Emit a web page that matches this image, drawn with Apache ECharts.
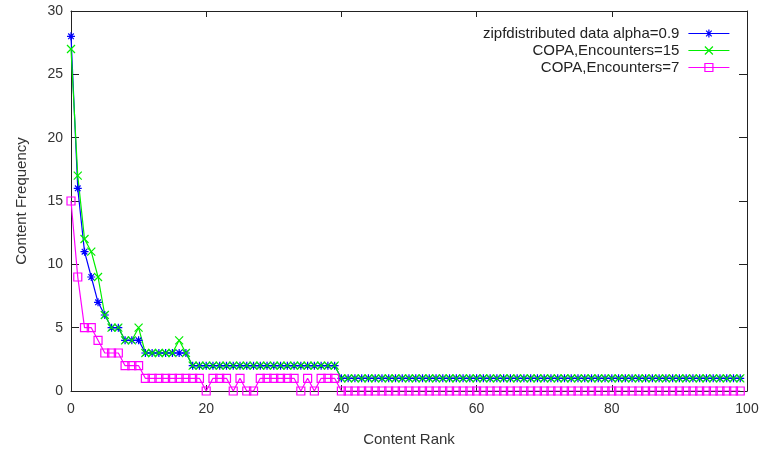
<!DOCTYPE html>
<html>
<head>
<meta charset="utf-8">
<script src="https://cdn.jsdelivr.net/npm/echarts@6/dist/echarts.min.js"></script>
<style>
html,body{margin:0;padding:0;background:#fff;}
#chart{width:763px;height:452px;}
</style>
</head>
<body>
<div id="chart"></div>
<script>
// Content rank 0..99
var ranks = [];
for (var r = 0; r < 100; r++) ranks.push(r);

function rep(v, n) { var a = []; for (var k = 0; k < n; k++) a.push(v); return a; }

var seriesNames = ['zipfdistributed data alpha=0.9', 'COPA,Encounters=15', 'COPA,Encounters=7'];

var zipfValues = [28, 16, 11, 9, 7, 6, 5, 5, 4, 4, 4]
  .concat(rep(3, 7))
  .concat(rep(2, 22))
  .concat(rep(1, 60));

var copa15Values = [27, 17, 12, 11, 9, 6, 5, 5, 4, 4, 5, 3, 3, 3, 3, 3, 4, 3]
  .concat(rep(2, 22))
  .concat(rep(1, 60));

var copa7Values = [15, 9, 5, 5, 4, 3, 3, 3, 2, 2, 2]
  .concat(rep(1, 9))
  .concat([0, 1, 1, 1, 0, 1, 0, 0, 1, 1, 1, 1, 1, 1, 0, 1, 0, 1, 1, 1])
  .concat(rep(0, 60));

var xTicks = [0, 20, 40, 60, 80, 100];
var yTicks = [0, 5, 10, 15, 20, 25, 30];

function pairs(vals) { return ranks.map(function (x, i) { return [x, vals[i]]; }); }

var FONT = 'Liberation Sans';
var frameColor = '#222';

var chart = echarts.init(document.getElementById('chart'), null, {renderer: 'canvas'});

function mkSeries(name, vals, color, symbol, size) {
  return {
    name: name,
    type: 'line',
    data: pairs(vals),
    symbol: symbol,
    symbolSize: size,
    showAllSymbol: true,
    animation: false,
    lineStyle: {color: color, width: 1.2},
    itemStyle: {color: 'rgba(0,0,0,0)', borderColor: color, borderWidth: 1.2},
    emphasis: {disabled: true}
  };
}

var option = {
  animation: false,
  grid: {left: 71, right: 16, top: 11, bottom: 60, containLabel: false},
  legend: {
    orient: 'vertical',
    right: 28,
    top: 21,
    align: 'right',
    itemWidth: 41,
    itemHeight: 10,
    itemGap: 2,
    lineStyle: {width: 1.2},
    itemStyle: {borderWidth: 1.2},
    textStyle: {fontFamily: FONT, fontSize: 15, color: '#222', padding: [0, 4, 0, 0]},
    data: seriesNames
  },
  xAxis: [{
    type: 'value', min: 0, max: 100, interval: 20,
    name: 'Content Rank', nameLocation: 'middle', nameGap: 41,
    nameTextStyle: {fontFamily: FONT, fontSize: 15, color: '#333'},
    axisLine: {show: true, onZero: false, lineStyle: {color: frameColor, width: 1}},
    axisTick: {show: true, inside: true, length: 6, lineStyle: {color: frameColor}},
    axisLabel: {fontFamily: FONT, fontSize: 14, color: '#333', margin: 11,
      formatter: function (v) { return xTicks.indexOf(v) >= 0 ? String(v) : ''; }},
    splitLine: {show: false}
  }, {
    type: 'value', position: 'top', min: 0, max: 100, interval: 20,
    axisLine: {show: true, onZero: false, lineStyle: {color: frameColor, width: 1}},
    axisTick: {show: true, inside: true, length: 6, lineStyle: {color: frameColor}},
    axisLabel: {show: false},
    splitLine: {show: false}
  }],
  yAxis: [{
    type: 'value', min: 0, max: 30, interval: 5,
    name: 'Content Frequency', nameLocation: 'middle', nameGap: 42,
    nameTextStyle: {fontFamily: FONT, fontSize: 15, color: '#333'},
    axisLine: {show: true, onZero: false, lineStyle: {color: frameColor, width: 1}},
    axisTick: {show: true, inside: true, length: 8, lineStyle: {color: frameColor}},
    axisLabel: {fontFamily: FONT, fontSize: 14, color: '#333', margin: 8,
      formatter: function (v) { return yTicks.indexOf(v) >= 0 ? String(v) : ''; }},
    splitLine: {show: false}
  }, {
    type: 'value', position: 'right', min: 0, max: 30, interval: 5,
    axisLine: {show: true, onZero: false, lineStyle: {color: frameColor, width: 1}},
    axisTick: {show: true, inside: true, length: 8, lineStyle: {color: frameColor}},
    axisLabel: {show: false},
    splitLine: {show: false}
  }],
  series: [
    mkSeries(seriesNames[0], zipfValues, '#0000ff', 'path://M5,0L5,10M0,5L10,5M1.5,1.5L8.5,8.5M1.5,8.5L8.5,1.5', 8),
    mkSeries(seriesNames[1], copa15Values, '#00ee00', 'path://M0,0L10,10M0,10L10,0', 8),
    mkSeries(seriesNames[2], copa7Values, '#ff00ff', 'path://M0,0L10,0L10,10L0,10Z', 8)
  ]
};
chart.setOption(option);
</script>
</body>
</html>
